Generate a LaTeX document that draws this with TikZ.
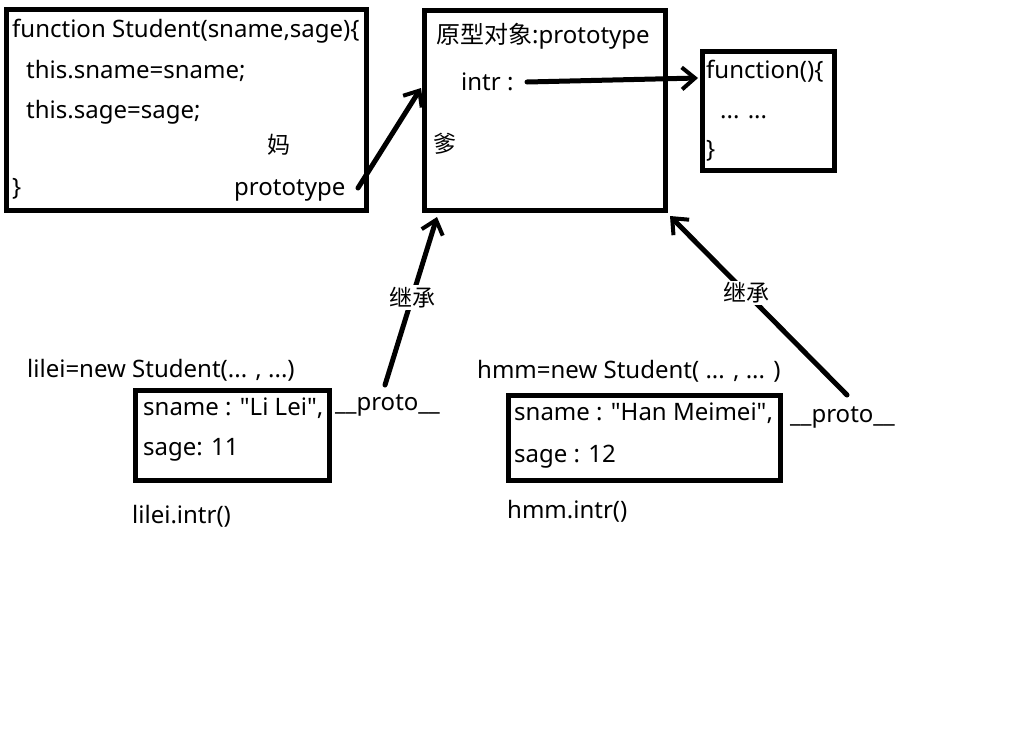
\documentclass[tikz,border=0pt]{standalone}
\usepackage{fontspec}
\setmainfont{Noto Sans}
\newfontfamily\cjk{Noto Sans CJK SC}
\usetikzlibrary{arrows.meta}
\begin{document}
\begin{tikzpicture}[x=1pt,y=-1pt,
  box/.style={draw, line width=5pt, inner sep=0pt},
  txt/.style={anchor=base west, inner sep=0pt, font=\fontsize{24}{28}\selectfont},
  link/.style={line width=5pt, line cap=round, -{Straight Barb[length=13pt,width=22pt,line width=4pt]}},
  lab/.style={fill=white, inner sep=2pt, font=\fontsize{23}{26}\selectfont\cjk}]
\useasboundingbox (0,0) rectangle (1018,734);
% boxes
\node[box, minimum width=360pt, minimum height=201pt] (ctor) at (186.5,110) {};
\node[box, minimum width=241pt, minimum height=200pt] (proto) at (545,110.5) {};
\node[box, minimum width=132pt, minimum height=119pt] (func) at (768.5,111) {};
\node[box, minimum width=194pt, minimum height=90pt] (lbox) at (232.5,435.5) {};
\node[box, minimum width=272pt, minimum height=85pt] (hbox) at (644.5,438) {};
% constructor texts
\node[txt] (c1) at (12,37) {function Student(sname,sage)\{};
\node[txt] (c2) at (26,78) {this.sname=sname;};
\node[txt] (c3) at (26,118) {this.sage=sage;};
\node[txt, font=\fontsize{23}{26}\selectfont\cjk] (ma) at (267,153) {妈};
\node[txt] (cproto) at (234,195) {prototype};
\node[txt] (c5) at (12,195) {\}};
% prototype texts
\node[txt] (p1) at (436,43) {{\cjk 原型对象}:prototype};
\node[txt] (intr) at (461,90) {intr :};
\node[txt, font=\fontsize{23}{26}\selectfont\cjk] (die) at (433,152) {爹};
% function texts
\node[txt] (f1) at (706,78) {function()\{};
\node[txt] (f2) at (720,118) {... ...};
\node[txt] (f3) at (706,157) {\}};
% lilei
\node[txt] (lnew) at (27,377) {lilei=new Student(... , ...)};
\node[txt] (l1) at (143,415) {sname : \textquotedbl Li Lei\textquotedbl,};
\node[txt] (l2) at (143,455) {sage: 11};
\node[txt] (lp) at (335,410) {\_\_proto\_\_};
\node[txt] (lcall) at (132,523) {lilei.intr()};
% hmm
\node[txt] (hnew) at (477,378) {hmm=new Student( ... , ... )};
\node[txt] (h1) at (514,420) {sname : \textquotedbl Han Meimei\textquotedbl,};
\node[txt] (h2) at (514,462) {sage : 12};
\node[txt] (hp) at (790,422) {\_\_proto\_\_};
\node[txt] (hcall) at (507,518) {hmm.intr()};
% connector end points
\coordinate (a1s) at (358,188);
\coordinate (a1e) at (421,88);
\coordinate (a2s) at (527,82);
\coordinate (a2e) at (698,78);
\coordinate (a3s) at (385,385);
\coordinate (a3e) at (437,217);
\coordinate (a4s) at (847,395);
\coordinate (a4e) at (670,216);
% connectors
\draw[link] (a1s) -- (a1e);
\draw[link] (a2s) -- (a2e);
\draw[link] (a3s) -- node[lab, pos=0.52] (inh1) {继承} (a3e);
\draw[link] (a4s) -- node[lab, pos=0.57] (inh2) {继承} (a4e);
\end{tikzpicture}
\end{document}
